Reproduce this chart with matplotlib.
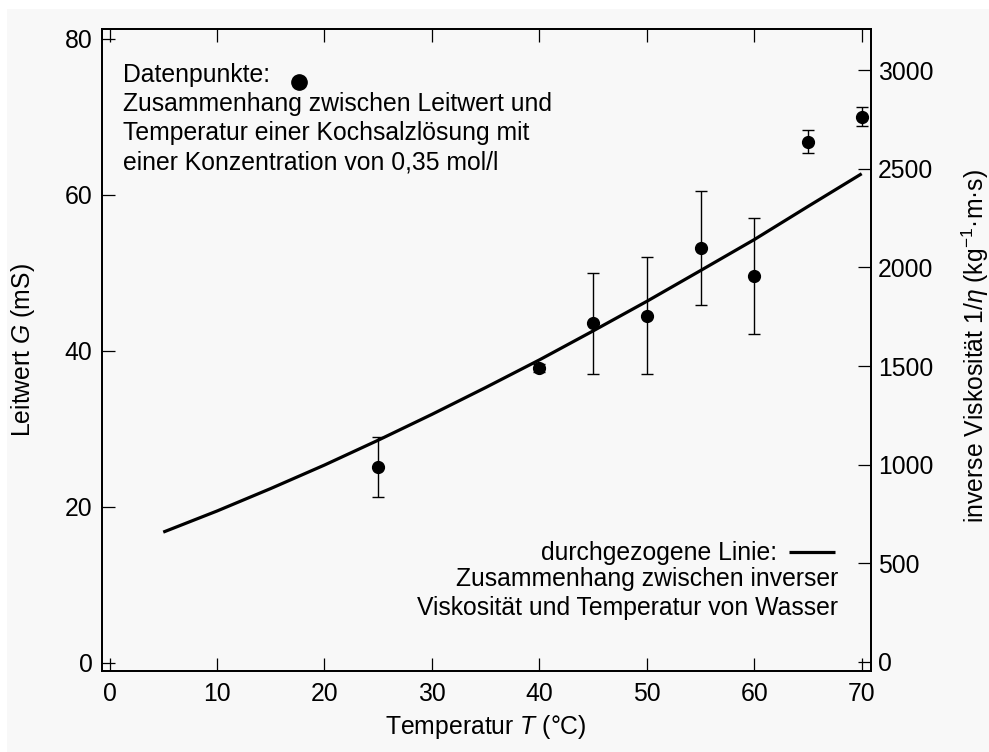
import matplotlib
matplotlib.use('Agg')
import matplotlib.pyplot as plt
from matplotlib.patches import Rectangle

# Leitwert einer Kochsalzloesung (0,35 mol/l), Messpunkte mit Fehlerbalken
temp_salz = [25, 40, 45, 50, 55, 60, 65, 70]
leitwert = [25.1, 37.8, 43.5, 44.5, 53.2, 49.6, 66.8, 70.0]
leitwert_err = [3.9, 0.5, 6.5, 7.5, 7.3, 7.4, 1.5, 1.2]

# inverse Viskositaet von Wasser (kg^-1 m s)
temp_wasser = [5, 10, 15, 20, 25, 30, 35, 40, 45, 50, 55, 60, 65, 70]
inv_visk = [658, 765, 879, 998, 1124, 1255, 1391, 1531, 1678, 1828,
            1984, 2141, 2309, 2475]

x_ticks = [0, 10, 20, 30, 40, 50, 60, 70]
g_ticks = [0, 20, 40, 60, 80]
visk_ticks = [0, 500, 1000, 1500, 2000, 2500, 3000]

text_daten = ("Datenpunkte:\n"
              "Zusammenhang zwischen Leitwert und\n"
              "Temperatur einer Kochsalzlösung mit\n"
              "einer Konzentration von 0,35 mol/l")
text_linie = "durchgezogene Linie:"
text_linie2 = ("Zusammenhang zwischen inverser\n"
               "Viskosität und Temperatur von Wasser")


def main():
    plt.rcParams['font.family'] = ['Liberation Sans', 'DejaVu Sans']
    plt.rcParams['mathtext.fontset'] = 'custom'
    plt.rcParams['mathtext.rm'] = 'Liberation Sans'
    plt.rcParams['mathtext.it'] = 'Liberation Sans:italic'
    fs = 17.8
    bg = '#f8f8f8'

    fig = plt.figure(figsize=(9.89, 7.52), dpi=100)
    fig.patch.set_facecolor('white')
    fig.add_artist(Rectangle((7 / 989, 0), 1, 743 / 752, transform=fig.transFigure,
                             facecolor=bg, edgecolor='none', zorder=-10))

    ax = fig.add_axes([0.1027, 0.1077, 0.7777, 0.8533])
    ax.set_facecolor('none')
    ax2 = ax.twinx()
    ax2.set_facecolor('none')

    # Messpunkte
    ax.errorbar(temp_salz, leitwert, yerr=leitwert_err, fmt='o', color='black',
                ms=8.5, capsize=4.5, elinewidth=1.0, capthick=1.0)
    # Wasser-Kurve auf der rechten Achse
    ax2.plot(temp_wasser, inv_visk, color='black', lw=2.3, solid_capstyle='butt')

    ax.set_xlim(-0.74, 70.84)
    ax.set_ylim(-1.06, 81.2)
    ax2.set_ylim(-46, 3207)
    ax.set_xticks(x_ticks)
    ax.set_yticks(g_ticks)
    ax2.set_yticks(visk_ticks)

    ax.tick_params(axis='x', direction='in', length=9.5, width=0.9, top=True,
                   labelsize=fs, pad=8)
    ax.tick_params(axis='y', direction='in', length=9.5, width=0.9,
                   labelsize=fs, pad=6.5)
    ax2.tick_params(axis='y', direction='in', length=9.5, width=0.9,
                    labelsize=fs, pad=5)
    for a in (ax, ax2):
        for sp in a.spines.values():
            sp.set_linewidth(1.3)

    # Beschriftung oben links (Baseline der letzten Zeile)
    ax.text(0.0274, 0.7823, text_daten, transform=ax.transAxes, fontsize=fs,
            ha='left', va='baseline', linespacing=1.26)
    ax.plot([0.2567], [0.9174], 'o', ms=11, color='black',
            transform=ax.transAxes, clip_on=False)

    # Beschriftung unten rechts
    ax.text(0.8782, 0.173, text_linie, transform=ax.transAxes, fontsize=fs,
            ha='right', va='baseline')
    ax.plot([0.8940, 0.9538], [0.1854, 0.1854], color='black', lw=2.3,
            transform=ax.transAxes, solid_capstyle='butt')
    ax.text(0.9579, 0.0873, text_linie2, transform=ax.transAxes, fontsize=fs,
            ha='right', va='baseline', multialignment='right', linespacing=1.26)

    # Achsentitel
    fig.text(486 / 989, 1 - 727 / 752, 'Temperatur $T$ (°C)', fontsize=fs,
             ha='center', va='center')
    fig.text(23 / 989, 1 - 350 / 752, 'Leitwert $G$ (mS)', fontsize=fs,
             ha='center', va='center', rotation=90)
    fig.text(975 / 989, 1 - 346 / 752,
             r'inverse Viskosität 1/$\eta$ (kg$^{-1}$·m·s)', fontsize=fs,
             ha='center', va='center', rotation=90)

    fig.savefig('out.png', dpi=100, facecolor=fig.get_facecolor())
    print("saved out.png")


if __name__ == "__main__":
    main()
